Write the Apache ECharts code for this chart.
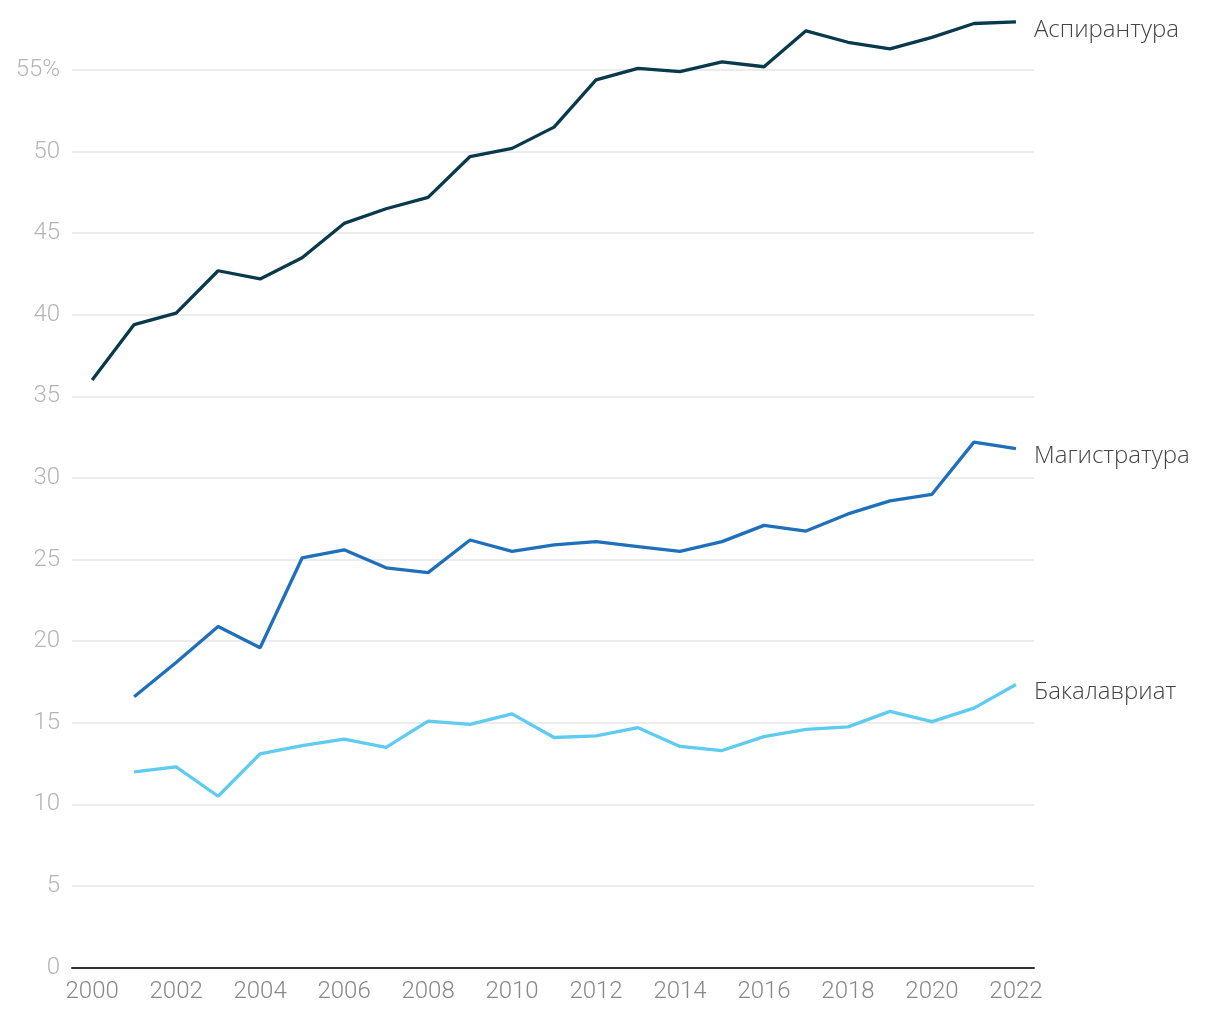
<!DOCTYPE html>
<html>
<head>
<meta charset="utf-8">
<script src="https://cdn.jsdelivr.net/npm/echarts@6/dist/echarts.min.js"></script>
<style>
html,body{margin:0;padding:0;background:#fff;}
#chart{width:1220px;height:1020px;}
</style>
</head>
<body>
<div id="chart"></div>
<script>
const years = [2000,2001,2002,2003,2004,2005,2006,2007,2008,2009,2010,2011,2012,2013,2014,2015,2016,2017,2018,2019,2020,2021,2022];
const seriesNames = ['Аспирантура','Магистратура','Бакалавриат'];
const aspirantura = [36.0,39.4,40.1,42.7,42.2,43.5,45.6,46.5,47.2,49.7,50.2,51.5,54.4,55.1,54.9,55.5,55.2,57.4,56.7,56.3,57.0,57.85,57.95];
const magistratura = [null,16.6,18.7,20.9,19.6,25.1,25.6,24.5,24.2,26.2,25.5,25.9,26.1,25.8,25.5,26.1,27.1,26.75,27.8,28.6,29.0,32.2,31.8];
const bakalavriat = [null,12.0,12.3,10.5,13.1,13.6,14.0,13.5,15.1,14.9,15.55,14.1,14.2,14.7,13.55,13.3,14.15,14.6,14.75,15.7,15.07,15.9,17.35];
const xTickLabels = [2000,2002,2004,2006,2008,2010,2012,2014,2016,2018,2020,2022];
const yTickLabels = [0,5,10,15,20,25,30,35,40,45,50,55];
const colors = ['#083a4c','#1f70ba','#5ecbef'];

function pairs(vals){ return years.map((y,i)=>[y, vals[i]]); }
const allValues = [aspirantura, magistratura, bakalavriat];

const chart = echarts.init(document.getElementById('chart'));
chart.setOption({
  animation:false,
  backgroundColor:'#fff',
  grid:{left:72,right:186,top:12.9,bottom:52.4,containLabel:false},
  xAxis:{
    type:'value', min:1999.52, max:2022.43,
    splitLine:{show:false},
    axisTick:{show:false},
    axisLine:{show:true,onZero:false,lineStyle:{color:'#333',width:2}},
    axisLabel:{customValues:xTickLabels,color:'#888',fontSize:24,fontFamily:'Roboto',fontWeight:300,margin:12,formatter:v=>String(v)}
  },
  yAxis:{
    type:'value', min:0, max:58.5, interval:5,
    axisLine:{show:false},
    axisTick:{show:false},
    splitLine:{show:true,showMaxLine:false,showMinLine:false,lineStyle:{color:'#e6e6e6',width:1.5}},
    axisLabel:{color:'#b5b5b5',fontSize:24,fontFamily:'Roboto',fontWeight:300,margin:12,showMaxLabel:false,
      formatter:v=> (yTickLabels.indexOf(v)<0 ? '' : (v===55?'55%':String(v)))}
  },
  series: seriesNames.map((name,k)=>({
    name:name, type:'line', data:pairs(allValues[k]),
    symbol:'none', connectNulls:false,
    lineStyle:{color:colors[k],width:3.3},
    itemStyle:{color:colors[k]},
    endLabel:{show:true,formatter:'{a}',color:'#444',fontSize:24,fontFamily:'Open Sans',fontWeight:300,distance:18,offset:[0,8]},
    z:3-k
  }))
});
</script>
</body>
</html>
